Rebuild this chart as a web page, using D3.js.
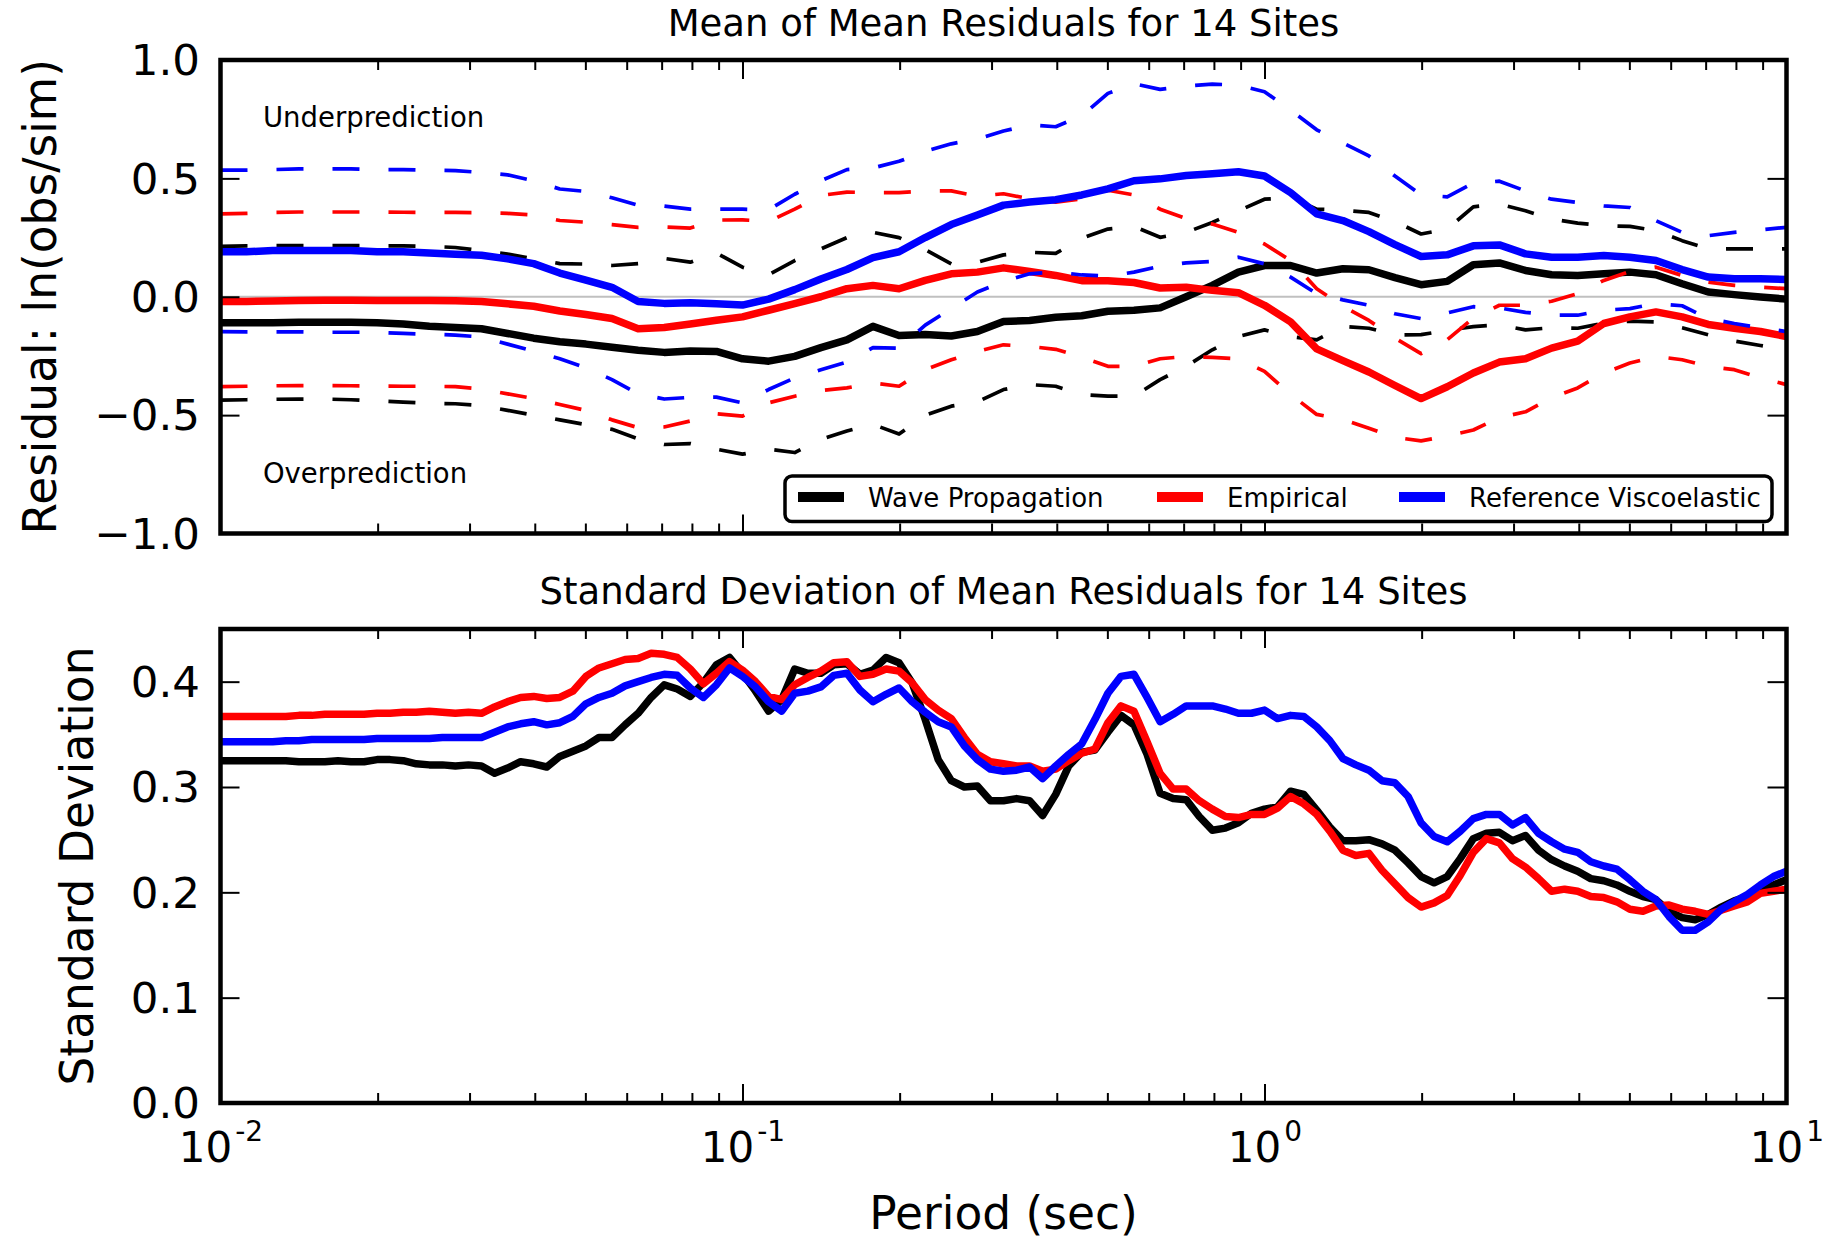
<!DOCTYPE html>
<html><head><meta charset="utf-8">
<script src="https://cdn.jsdelivr.net/npm/d3@7"></script>
<style>
body{margin:0;background:#fff;}
svg{display:block;font-family:"DejaVu Sans",sans-serif;background:#fff;}
</style></head><body>
<svg id="chart" width="1831" height="1242"></svg>
<script>
// ---------- DATA ----------
// Periods (sec) for the mean-residual panel
const meanPeriods = [0.01,0.01122,0.01259,0.01413,0.01585,0.01778,0.01995,0.02239,0.02512,0.02818,
 0.03162,0.03548,0.03981,0.04467,0.05012,0.05623,0.0631,0.0708,0.07943,0.08913,
 0.1,0.1122,0.1259,0.1413,0.1585,0.1778,0.1995,0.2239,0.2512,0.2818,
 0.3162,0.3548,0.3981,0.4467,0.5012,0.5623,0.631,0.708,0.7943,0.8913,
 1,1.122,1.259,1.413,1.585,1.778,1.995,2.239,2.512,2.818,
 3.162,3.548,3.981,4.467,5.012,5.623,6.31,7.08,7.943,8.913,10];

// Wave Propagation (black)
const wpMean = [-0.11,-0.11,-0.11,-0.108,-0.108,-0.108,-0.11,-0.115,-0.125,-0.13,
 -0.135,-0.155,-0.175,-0.19,-0.2,-0.213,-0.226,-0.235,-0.229,-0.231,
 -0.262,-0.272,-0.252,-0.215,-0.182,-0.125,-0.164,-0.159,-0.166,-0.147,
 -0.105,-0.1,-0.087,-0.08,-0.061,-0.057,-0.047,0.0,0.048,0.104,
 0.132,0.132,0.1,0.118,0.114,0.081,0.051,0.065,0.135,0.143,
 0.111,0.093,0.09,0.097,0.104,0.093,0.055,0.02,0.009,-0.001,-0.01];
const wpUpper = [0.213,0.215,0.216,0.216,0.216,0.216,0.215,0.215,0.213,0.208,
 0.195,0.18,0.16,0.14,0.138,0.132,0.14,0.162,0.146,0.185,
 0.125,0.093,0.153,0.202,0.25,0.272,0.25,0.199,0.139,0.146,
 0.177,0.188,0.183,0.247,0.286,0.297,0.251,0.272,0.314,0.363,
 0.412,0.419,0.37,0.366,0.356,0.318,0.265,0.286,0.38,0.391,
 0.363,0.328,0.311,0.3,0.297,0.279,0.237,0.202,0.202,0.202,0.202];
const wpLower = [-0.437,-0.435,-0.433,-0.432,-0.432,-0.435,-0.44,-0.445,-0.45,-0.452,
 -0.46,-0.48,-0.5,-0.52,-0.54,-0.56,-0.6,-0.624,-0.62,-0.644,
 -0.665,-0.644,-0.658,-0.602,-0.567,-0.539,-0.58,-0.5,-0.462,-0.444,
 -0.392,-0.371,-0.378,-0.413,-0.42,-0.42,-0.35,-0.294,-0.224,-0.168,
 -0.14,-0.168,-0.182,-0.125,-0.133,-0.161,-0.16,-0.142,-0.126,-0.119,
 -0.14,-0.131,-0.133,-0.112,-0.103,-0.106,-0.131,-0.161,-0.187,-0.206,-0.224];

// Empirical (red)
const empMean = [-0.02,-0.02,-0.018,-0.016,-0.015,-0.015,-0.016,-0.016,-0.016,-0.017,
 -0.02,-0.03,-0.04,-0.06,-0.075,-0.092,-0.135,-0.13,-0.115,-0.099,
 -0.085,-0.057,-0.029,0.0,0.034,0.048,0.034,0.069,0.097,0.104,
 0.122,0.107,0.09,0.068,0.068,0.06,0.037,0.04,0.027,0.017,
 -0.036,-0.106,-0.22,-0.27,-0.318,-0.375,-0.43,-0.38,-0.322,-0.276,
 -0.262,-0.217,-0.187,-0.113,-0.085,-0.064,-0.085,-0.117,-0.133,-0.147,-0.168];
const empUpper = [0.35,0.352,0.356,0.358,0.358,0.358,0.358,0.357,0.356,0.356,
 0.355,0.352,0.345,0.322,0.315,0.305,0.293,0.295,0.29,0.324,
 0.325,0.318,0.37,0.428,0.442,0.44,0.44,0.447,0.447,0.425,
 0.435,0.414,0.4,0.414,0.45,0.43,0.37,0.33,0.307,0.272,
 0.223,0.153,0.034,-0.04,-0.1,-0.175,-0.24,-0.182,-0.09,-0.036,
 -0.036,-0.019,0.013,0.069,0.107,0.125,0.09,0.062,0.048,0.041,0.034];
const empLower = [-0.38,-0.378,-0.376,-0.375,-0.375,-0.376,-0.377,-0.378,-0.378,-0.38,
 -0.39,-0.41,-0.43,-0.455,-0.48,-0.52,-0.553,-0.55,-0.525,-0.494,
 -0.504,-0.448,-0.42,-0.396,-0.385,-0.364,-0.378,-0.308,-0.266,-0.231,
 -0.203,-0.21,-0.222,-0.255,-0.294,-0.294,-0.262,-0.252,-0.256,-0.262,
 -0.315,-0.413,-0.497,-0.518,-0.555,-0.594,-0.609,-0.588,-0.563,-0.511,
 -0.486,-0.427,-0.385,-0.322,-0.28,-0.252,-0.266,-0.294,-0.308,-0.343,-0.371];

// Reference Viscoelastic (blue)
const refMean = [0.19,0.19,0.195,0.195,0.195,0.195,0.19,0.19,0.185,0.18,
 0.175,0.16,0.14,0.1,0.07,0.04,-0.02,-0.028,-0.025,-0.03,
 -0.035,-0.01,0.03,0.075,0.115,0.165,0.19,0.25,0.305,0.345,
 0.387,0.4,0.41,0.43,0.456,0.49,0.498,0.512,0.52,0.528,
 0.51,0.44,0.35,0.322,0.275,0.22,0.17,0.177,0.215,0.219,
 0.181,0.167,0.167,0.174,0.167,0.153,0.115,0.083,0.076,0.076,0.073];
const refUpper = [0.535,0.535,0.537,0.54,0.54,0.54,0.537,0.537,0.535,0.533,
 0.525,0.515,0.49,0.455,0.445,0.418,0.387,0.383,0.37,0.37,
 0.37,0.367,0.433,0.49,0.537,0.544,0.572,0.614,0.646,0.666,
 0.7,0.726,0.718,0.765,0.859,0.9,0.876,0.89,0.898,0.894,
 0.866,0.789,0.705,0.65,0.595,0.51,0.43,0.422,0.48,0.488,
 0.447,0.412,0.398,0.384,0.377,0.321,0.272,0.258,0.272,0.283,0.293];
const refLower = [-0.147,-0.148,-0.148,-0.148,-0.15,-0.15,-0.15,-0.155,-0.158,-0.162,
 -0.17,-0.2,-0.23,-0.262,-0.3,-0.35,-0.41,-0.432,-0.425,-0.424,
 -0.448,-0.392,-0.343,-0.308,-0.276,-0.215,-0.217,-0.12,-0.05,0.02,
 0.065,0.097,0.105,0.092,0.087,0.104,0.129,0.143,0.149,0.167,
 0.139,0.083,0.013,-0.013,-0.036,-0.072,-0.092,-0.068,-0.042,-0.047,
 -0.066,-0.078,-0.078,-0.057,-0.05,-0.029,-0.038,-0.092,-0.113,-0.131,-0.147];

// Periods (sec) for the standard-deviation panel
const stdPeriods = [0.01,0.01059,0.01122,0.01189,0.01259,0.01334,0.01413,0.01496,0.01585,0.01679,
 0.01778,0.01884,0.01995,0.02113,0.02239,0.02371,0.02512,0.02661,0.02818,0.02985,
 0.03162,0.0335,0.03548,0.03758,0.03981,0.04217,0.04467,0.04732,0.05012,0.05309,
 0.05623,0.05957,0.0631,0.06683,0.07079,0.07499,0.07943,0.08414,0.08913,0.09441,
 0.1,0.1059,0.1122,0.1189,0.1259,0.1334,0.1413,0.1496,0.1585,0.1679,
 0.1778,0.1884,0.1995,0.2113,0.2239,0.2371,0.2512,0.2661,0.2818,0.2985,
 0.3162,0.335,0.3548,0.3758,0.3981,0.4217,0.4467,0.4732,0.5012,0.5309,
 0.5623,0.5957,0.631,0.6683,0.7079,0.7499,0.7943,0.8414,0.8913,0.9441,
 1,1.059,1.122,1.189,1.259,1.334,1.413,1.496,1.585,1.679,
 1.778,1.884,1.995,2.113,2.239,2.371,2.512,2.661,2.818,2.985,
 3.162,3.35,3.548,3.758,3.981,4.217,4.467,4.732,5.012,5.309,
 5.623,5.957,6.31,6.683,7.079,7.499,7.943,8.414,8.913,9.441,10];

const wpStd = [0.325,0.325,0.325,0.325,0.325,0.325,0.324,0.324,0.324,0.325,
 0.324,0.324,0.326,0.326,0.325,0.322,0.321,0.321,0.32,0.321,
 0.32,0.313,0.318,0.324,0.322,0.319,0.329,0.334,0.339,0.347,
 0.347,0.359,0.37,0.385,0.397,0.393,0.386,0.399,0.416,0.423,
 0.408,0.391,0.372,0.383,0.412,0.408,0.408,0.416,0.417,0.407,
 0.411,0.423,0.418,0.399,0.364,0.326,0.306,0.3,0.301,0.287,
 0.287,0.289,0.287,0.273,0.293,0.32,0.333,0.335,0.352,0.368,
 0.359,0.331,0.294,0.289,0.288,0.272,0.259,0.261,0.266,0.275,
 0.279,0.281,0.296,0.293,0.278,0.262,0.249,0.249,0.25,0.246,
 0.24,0.228,0.215,0.209,0.215,0.232,0.251,0.256,0.257,0.249,
 0.254,0.24,0.231,0.225,0.22,0.213,0.211,0.207,0.201,0.196,
 0.193,0.182,0.176,0.174,0.179,0.186,0.192,0.196,0.203,0.207,0.212];
const empStd = [0.367,0.367,0.367,0.367,0.367,0.367,0.368,0.368,0.369,0.369,
 0.369,0.369,0.37,0.37,0.371,0.371,0.372,0.371,0.37,0.371,
 0.37,0.376,0.381,0.385,0.386,0.384,0.385,0.391,0.405,0.413,
 0.417,0.421,0.422,0.427,0.426,0.423,0.412,0.398,0.408,0.419,
 0.411,0.4,0.386,0.383,0.397,0.404,0.41,0.418,0.419,0.405,
 0.407,0.412,0.41,0.399,0.383,0.373,0.365,0.347,0.331,0.324,
 0.322,0.32,0.32,0.315,0.317,0.325,0.332,0.336,0.361,0.377,
 0.372,0.343,0.313,0.298,0.298,0.287,0.279,0.272,0.271,0.274,
 0.274,0.28,0.291,0.284,0.274,0.258,0.24,0.235,0.237,0.221,
 0.208,0.195,0.186,0.19,0.197,0.216,0.238,0.251,0.247,0.232,
 0.224,0.213,0.201,0.203,0.201,0.196,0.195,0.191,0.184,0.182,
 0.187,0.188,0.184,0.182,0.179,0.183,0.187,0.191,0.199,0.201,0.203];
const refStd = [0.343,0.343,0.343,0.343,0.343,0.344,0.344,0.345,0.345,0.345,
 0.345,0.345,0.346,0.346,0.346,0.346,0.346,0.347,0.347,0.347,
 0.347,0.352,0.357,0.36,0.362,0.359,0.361,0.367,0.379,0.385,
 0.389,0.396,0.4,0.404,0.407,0.406,0.394,0.385,0.397,0.413,
 0.405,0.395,0.381,0.372,0.389,0.391,0.395,0.406,0.408,0.392,
 0.381,0.388,0.394,0.381,0.371,0.362,0.357,0.339,0.326,0.317,
 0.315,0.316,0.319,0.308,0.32,0.331,0.341,0.364,0.389,0.405,
 0.407,0.385,0.362,0.369,0.377,0.377,0.377,0.374,0.37,0.37,
 0.373,0.365,0.368,0.367,0.357,0.344,0.327,0.321,0.316,0.306,
 0.304,0.291,0.266,0.253,0.248,0.258,0.27,0.274,0.274,0.264,
 0.271,0.256,0.248,0.241,0.238,0.229,0.225,0.222,0.212,0.201,
 0.193,0.177,0.164,0.164,0.172,0.184,0.191,0.198,0.207,0.215,0.22];

const seriesNames = ["Wave Propagation","Empirical","Reference Viscoelastic"];
const seriesColors = ["#000000","#ff0000","#0000ff"];
const meanTicks = [-1.0,-0.5,0.0,0.5,1.0];
const stdTicks = [0.0,0.1,0.2,0.3,0.4];
const xMajorTicks = [0.01,0.1,1,10];
const xTickExponents = ["-2","-1","0","1"];
const xMinorTicks = [0.02,0.03,0.04,0.05,0.06,0.07,0.08,0.09,0.2,0.3,0.4,0.5,0.6,0.7,0.8,0.9,2,3,4,5,6,7,8,9];

// ---------- LAYOUT ----------
const svg = d3.select("#chart");
const X0 = 220.5, X1 = 1786.5;
const topBox = {y0: 60, y1: 533.5};
const botBox = {y0: 629, y1: 1103};
const x = d3.scaleLog().domain([0.01, 10]).range([X0, X1]);
const yTop = d3.scaleLinear().domain([-1, 1]).range([topBox.y1, topBox.y0]);
const yBot = d3.scaleLinear().domain([0, 0.45]).range([botBox.y1, botBox.y0]);

const defs = svg.append("defs");
function clip(id, box){
  defs.append("clipPath").attr("id", id).append("rect")
    .attr("x", X0).attr("y", box.y0).attr("width", X1 - X0).attr("height", box.y1 - box.y0);
}
clip("clipTop", topBox); clip("clipBot", botBox);

function drawAxes(box, yScale, yTicks, xLabels){
  const g = svg.append("g");
  const fmt = d3.format(".1f");
  const major = 19, minor = 10;
  const gl = g.append("g").attr("transform", `translate(${X0},0)`)
    .call(d3.axisLeft(yScale).tickValues(yTicks).tickSize(-major).tickPadding(20.5).tickFormat(fmt));
  gl.selectAll(".tick text").attr("font-size", 43.5).attr("dy", "0.34em")
    .attr("font-family", "DejaVu Sans").attr("fill", "#000");
  g.append("g").attr("transform", `translate(${X1},0)`)
    .call(d3.axisRight(yScale).tickValues(yTicks).tickSize(-major).tickFormat(""));
  g.append("g").attr("transform", `translate(0,${box.y0})`)
    .call(d3.axisTop(x).tickValues(xMajorTicks).tickSize(-major).tickFormat(""));
  g.append("g").attr("transform", `translate(0,${box.y0})`)
    .call(d3.axisTop(x).tickValues(xMinorTicks).tickSize(-minor).tickFormat(""));
  const gb = g.append("g").attr("transform", `translate(0,${box.y1})`)
    .call(d3.axisBottom(x).tickValues(xMajorTicks).tickSize(-major).tickFormat(""));
  g.append("g").attr("transform", `translate(0,${box.y1})`)
    .call(d3.axisBottom(x).tickValues(xMinorTicks).tickSize(-minor).tickFormat(""));
  g.selectAll(".domain").remove();
  g.selectAll(".tick line").attr("stroke", "#000").attr("stroke-width", 2);
  if (xLabels){
    gb.selectAll(".tick").each(function(d, i){
      const t = d3.select(this).append("text")
        .attr("x", 0).attr("y", 1162 - box.y1).attr("text-anchor", "middle")
        .attr("fill", "#000").attr("font-family", "DejaVu Sans");
      t.append("tspan").attr("font-size", 42).text("10");
      t.append("tspan").attr("font-size", 28).attr("dx", 3).attr("dy", -21).text(xTickExponents[i]);
    });
  }
  svg.append("rect").attr("x", X0).attr("y", box.y0).attr("width", X1 - X0).attr("height", box.y1 - box.y0)
    .attr("fill", "none").attr("stroke", "#000").attr("stroke-width", 4.5);
}

// ---------- TOP PANEL ----------
svg.append("line").attr("x1", x(0.01)).attr("x2", x(10)).attr("y1", yTop(0)).attr("y2", yTop(0))
  .attr("stroke", "#c0c0c0").attr("stroke-width", 2.2);

const gTop = svg.append("g").attr("clip-path", "url(#clipTop)");
function addLine(g, periods, vals, yScale, color, width, dashed){
  const line = d3.line().x((d, i) => x(periods[i])).y(d => yScale(d)).curve(d3.curveLinear);
  g.append("path").datum(vals).attr("d", line).attr("fill", "none")
    .attr("stroke", color).attr("stroke-width", width)
    .attr("stroke-linejoin", "round").attr("stroke-linecap", dashed ? "butt" : "round")
    .attr("stroke-dasharray", dashed ? "27,29" : null);
}
const meanSets = [[wpMean, wpUpper, wpLower],[empMean, empUpper, empLower],[refMean, refUpper, refLower]];
meanSets.forEach((s, k) => {
  addLine(gTop, meanPeriods, s[0], yTop, seriesColors[k], 7.5, false);
  addLine(gTop, meanPeriods, s[1], yTop, seriesColors[k], 3.7, true);
  addLine(gTop, meanPeriods, s[2], yTop, seriesColors[k], 3.7, true);
});
drawAxes(topBox, yTop, meanTicks, false);

svg.append("text").attr("x", x(0.01206)).attr("y", yTop(0.718)).attr("font-size", 27.5).text("Underprediction");
svg.append("text").attr("x", x(0.01206)).attr("y", yTop(-0.787)).attr("font-size", 27.5).text("Overprediction");

const lg = svg.append("g");
lg.append("rect").attr("x", 785).attr("y", 476).attr("width", 987).attr("height", 45.5).attr("rx", 7)
  .attr("fill", "#fff").attr("stroke", "#000").attr("stroke-width", 3.5);
const legX = [798, 1157, 1399];
seriesNames.forEach((n, k) => {
  lg.append("line").attr("x1", legX[k]).attr("x2", legX[k] + 46).attr("y1", 497).attr("y2", 497)
    .attr("stroke", seriesColors[k]).attr("stroke-width", 10);
  lg.append("text").attr("x", legX[k] + 70).attr("y", 507).attr("font-size", 26).text(n);
});

svg.append("text").attr("x", (X0 + X1) / 2).attr("y", 36).attr("text-anchor", "middle")
  .attr("font-size", 37).text("Mean of Mean Residuals for 14 Sites");
svg.append("text").attr("transform", `translate(56,${(topBox.y0 + topBox.y1) / 2}) rotate(-90)`)
  .attr("text-anchor", "middle").attr("font-size", 45.5).text("Residual: ln(obs/sim)");

// ---------- BOTTOM PANEL ----------
const gBot = svg.append("g").attr("clip-path", "url(#clipBot)");
[wpStd, empStd, refStd].forEach((s, k) => addLine(gBot, stdPeriods, s, yBot, seriesColors[k], 7.5, false));
drawAxes(botBox, yBot, stdTicks, true);

svg.append("text").attr("x", (X0 + X1) / 2).attr("y", 604).attr("text-anchor", "middle")
  .attr("font-size", 37).text("Standard Deviation of Mean Residuals for 14 Sites");
svg.append("text").attr("transform", `translate(93,${(botBox.y0 + botBox.y1) / 2}) rotate(-90)`)
  .attr("text-anchor", "middle").attr("font-size", 45.5).text("Standard Deviation");
svg.append("text").attr("x", (X0 + X1) / 2).attr("y", 1229).attr("text-anchor", "middle")
  .attr("font-size", 45.5).text("Period (sec)");
</script></body></html>
